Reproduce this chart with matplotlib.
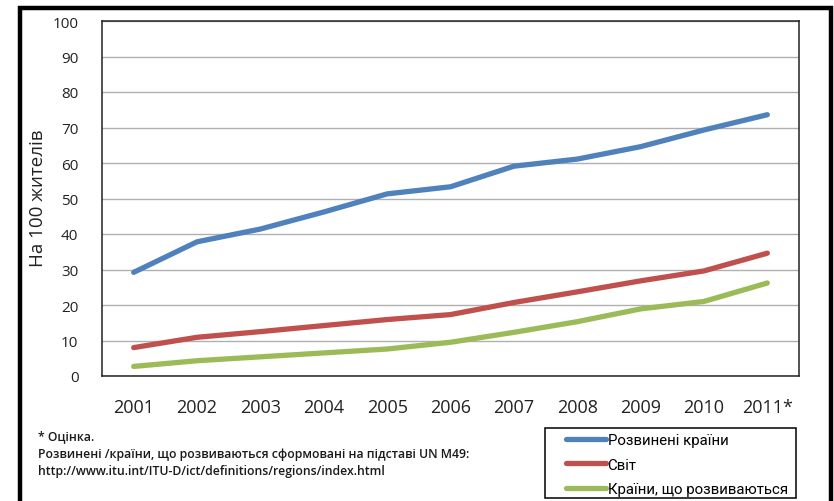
import matplotlib
matplotlib.use("Agg")
import matplotlib.pyplot as plt
from matplotlib.patches import Rectangle

years = ["2001", "2002", "2003", "2004", "2005", "2006",
         "2007", "2008", "2009", "2010", "2011*"]
developed = [29.2, 37.8, 41.4, 46.2, 51.3, 53.3, 59.1, 61.1, 64.6, 69.3, 73.6]
world = [8.0, 10.9, 12.5, 14.2, 15.9, 17.3, 20.7, 23.7, 26.8, 29.6, 34.6]
developing = [2.7, 4.3, 5.4, 6.5, 7.6, 9.5, 12.3, 15.3, 18.9, 21.0, 26.2]

series_names = ["Розвинені країни", "Світ", "Країни, що розвиваються"]
colors = ["#4F81BD", "#C0504D", "#9BBB59"]
y_ticks = [0, 10, 20, 30, 40, 50, 60, 70, 80, 90, 100]

plt.rcParams["font.family"] = ["Open Sans", "DejaVu Sans"]

W, H = 834, 502
fig = plt.figure(figsize=(W / 100, H / 100), dpi=100)
fig.patch.set_facecolor("white")

# thick outer frame (bottom edge runs off the canvas)
fig.add_artist(Rectangle((20 / W, -0.05), (831 - 20) / W, (H - 9) / H + 0.05,
                         transform=fig.transFigure, fill=False,
                         edgecolor="black", linewidth=3.2, zorder=10))

ax = fig.add_axes([102 / W, (H - 377) / H, (799 - 102) / W, (377 - 22) / H])
x = list(range(len(years)))
for vals, name, c in zip([developed, world, developing], series_names, colors):
    ax.plot(x, vals, color=c, linewidth=3.8, solid_capstyle="round",
            solid_joinstyle="round", label=name, zorder=3)

ax.set_xlim(-0.5, len(years) - 0.5)
ax.set_ylim(0, 100)
ax.set_yticks(y_ticks)
ax.set_yticklabels([str(v) for v in y_ticks])
ax.set_xticks(x)
ax.set_xticklabels(years)
ax.tick_params(axis="y", length=0, pad=17, labelsize=11, labelcolor="#222222")
ax.tick_params(axis="x", length=0, pad=16, labelsize=13, labelcolor="#222222")
ax.yaxis.grid(True, color="#b0b0b0", linewidth=1)
ax.set_axisbelow(True)
for s in ax.spines.values():
    s.set_color("#222222")
    s.set_linewidth(1.1)

fig.text(38 / W, 1 - 198 / H, "На 100 жителів", rotation=90, ha="center",
         va="center", fontsize=13.5, color="#222222")

# footnotes
notes = ["* Оцінка.",
         "Розвинені /країни, що розвиваються сформовані на підставі UN M49:",
         "http://www.itu.int/ITU-D/ict/definitions/regions/index.html"]
for i, t in enumerate(notes):
    fig.text(38 / W, 1 - (437 + 17.5 * i) / H, t, ha="left", va="center",
             fontsize=8.8, fontweight="semibold", color="#1a1a1a")

# legend
fig.add_artist(Rectangle((545 / W, 1 - 499 / H), (796 - 545) / W, (499 - 429) / H,
                         transform=fig.transFigure, fill=False,
                         edgecolor="black", linewidth=1.1, zorder=5))
handles, labels = ax.get_legend_handles_labels()
leg = fig.legend(handles, labels, loc="upper left",
                 bbox_to_anchor=(558 / W, 1 - 427 / H), frameon=False,
                 handlelength=2.7, handletextpad=0.1, labelspacing=0.68,
                 borderpad=0.0, prop={"family": ["Roboto", "DejaVu Sans"], "size": 10.8})
for line in leg.get_lines():
    line.set_linewidth(3.8)

fig.savefig("out.png", dpi=100, facecolor="white")
